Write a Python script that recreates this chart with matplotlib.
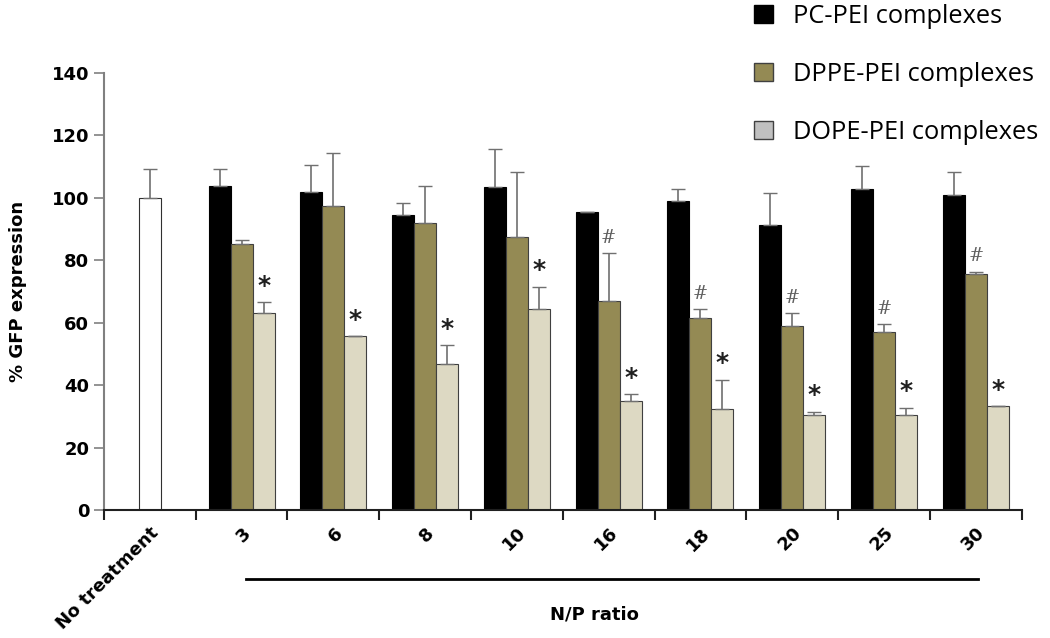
import matplotlib.pyplot as plt
import numpy as np
from matplotlib.patches import Patch
import matplotlib.transforms as mtransforms

categories = ["No treatment", "3", "6", "8", "10", "16", "18", "20", "25", "30"]
control_val = 100.0
control_err = 9.3

pc_vals = [103.9, 101.9, 94.4, 103.4, 95.5, 98.9, 91.3, 102.9, 101.0]
pc_err = [5.4, 8.6, 4.0, 12.2, 0.0, 4.0, 10.3, 7.3, 7.2]
dppe_vals = [85.2, 97.4, 92.1, 87.6, 67.1, 61.5, 58.9, 56.9, 75.5]
dppe_err = [1.3, 16.9, 11.6, 20.6, 15.2, 2.9, 4.1, 2.6, 0.9]
dope_vals = [63.0, 55.6, 46.7, 64.4, 34.8, 32.5, 30.4, 30.4, 33.2]
dope_err = [3.5, 0.0, 6.1, 7.2, 2.3, 9.3, 1.1, 2.4, 0.0]
dppe_hash = [False, False, False, False, True, True, True, True, True]
dope_star = [True] * 9

series_names = ["PC-PEI complexes", "DPPE-PEI complexes", "DOPE-PEI complexes"]

fig = plt.figure(figsize=(10.5, 6.38), dpi=100)
ax = fig.add_axes([0.099, 0.2006, 0.874, 0.685])

w = 0.24
edge = "#404040"
ecol = "#707070"
ekw = dict(ecolor=ecol, capsize=5, elinewidth=1.2, capthick=1)
x = np.arange(1, len(categories))

ax.bar(0, control_val, w, color="white", edgecolor="#303030", linewidth=0.8,
       yerr=[[0], [control_err]], error_kw=ekw)
ax.bar(x - w, pc_vals, w, color="black", edgecolor="black", linewidth=0.8,
       yerr=[np.zeros(9), pc_err], error_kw=ekw)
ax.bar(x, dppe_vals, w, color="#948a54", edgecolor=edge, linewidth=0.8,
       yerr=[np.zeros(9), dppe_err], error_kw=ekw)
ax.bar(x + w, dope_vals, w, color="#ddd9c3", edgecolor=edge, linewidth=0.8,
       yerr=[np.zeros(9), dope_err], error_kw=ekw)

for i in range(9):
    if dope_star[i]:
        ax.text(x[i] + w, dope_vals[i] + dope_err[i] + 1.5, "*", ha="center", va="bottom",
                fontsize=18, fontweight="bold", color="#202020")
    if dppe_hash[i]:
        ax.text(x[i], dppe_vals[i] + dppe_err[i] + 2.0, "#", ha="center", va="bottom",
                fontsize=13, color="#606060", family="DejaVu Serif")

ax.set_xlim(-0.5, 9.5)
ax.set_ylim(0, 140)
ax.set_yticks(np.arange(0, 141, 20))
ax.set_xticks(np.arange(-0.5, 10, 1))
ax.set_xticklabels([])
ax.set_xticks(np.arange(0, 10), minor=True)
ax.set_xticklabels(categories, minor=True, rotation=45, ha="right", rotation_mode="anchor",
                   fontsize=13, fontweight="bold")
ax.tick_params(axis="x", which="minor", length=0, pad=10)
ax.tick_params(axis="x", which="major", length=7, width=1.5, color="#202020")
ax.tick_params(axis="y", length=7, width=1.2, color="#808080", labelsize=13)
for lab in ax.get_yticklabels():
    lab.set_fontweight("bold")

for s in ["top", "right"]:
    ax.spines[s].set_visible(False)
ax.spines["left"].set_color("#808080")
ax.spines["left"].set_linewidth(1.5)
ax.spines["bottom"].set_color("#202020")
ax.spines["bottom"].set_linewidth(1.5)

ax.set_ylabel("% GFP expression", fontsize=13, fontweight="bold", labelpad=18)

trans = mtransforms.blended_transform_factory(ax.transData, ax.transAxes)
ax.plot([1.05, 9.02], [-0.157, -0.157], color="black", lw=2, transform=trans, clip_on=False)
ax.text(4.85, -0.24, "N/P ratio", transform=trans, ha="center", va="center",
        fontsize=13, fontweight="bold")

handles = [Patch(facecolor="black", edgecolor="black"),
           Patch(facecolor="#948a54", edgecolor=edge),
           Patch(facecolor="#c0c0c0", edgecolor=edge)]
fig.legend(handles, series_names, loc="upper left", bbox_to_anchor=(0.696, 1.03),
           frameon=False, prop={"family": "Open Sans", "size": 18.3},
           handlelength=0.75, handleheight=0.75, handletextpad=0.8, labelspacing=1.3)

fig.savefig("out.png", dpi=100)
